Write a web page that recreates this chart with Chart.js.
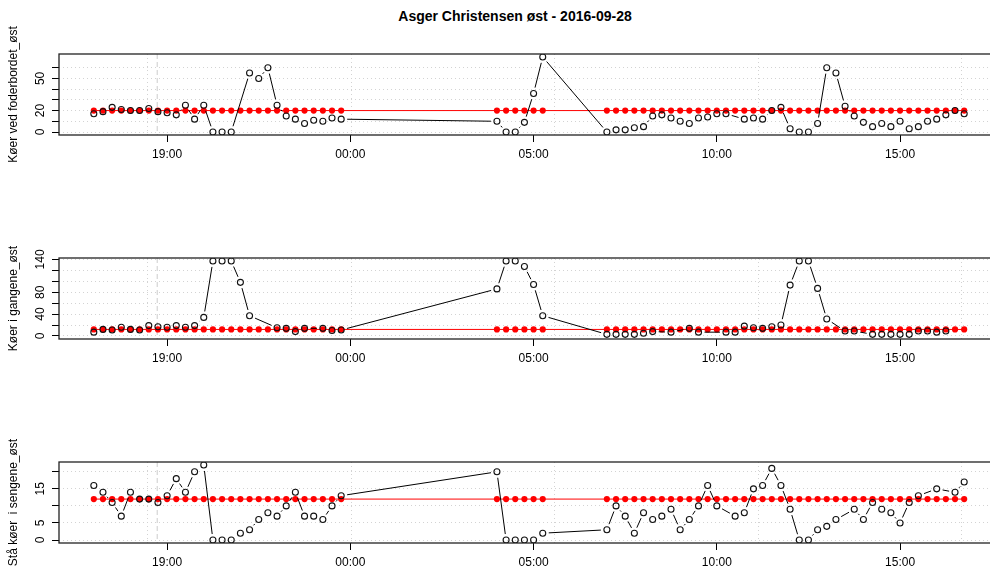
<!DOCTYPE html>
<html>
<head>
<meta charset="utf-8">
<script src="https://cdn.jsdelivr.net/npm/chart.js@4.4.0/dist/chart.umd.min.js"></script>
<style>
  html, body { margin: 0; padding: 0; background: #fff; overflow: hidden; width: 990px; height: 572px; }
  #title { position: absolute; left: 0; top: 8px; width: 1030px; text-align: center;
           font: bold 14px "Liberation Sans", Arial, sans-serif; color: #000; }
  canvas { position: absolute; left: 0; }
</style>
</head>
<body>
<div id="title">Asger Christensen øst - 2016-09-28</div>
<canvas id="foder" width="1010" height="226" style="top:4px"></canvas>
<canvas id="gangene" width="1010" height="226" style="top:208px"></canvas>
<canvas id="sengene" width="1010" height="226" style="top:412px"></canvas>
<script>
// tidspunkter (15 min), dag 1 kl. 17:00 til dag 2 kl. 16:45
const times = [
  '17:00','17:15','17:30','17:45','18:00','18:15','18:30','18:45','19:00','19:15','19:30','19:45',
  '20:00','20:15','20:30','20:45','21:00','21:15','21:30','21:45','22:00','22:15','22:30','22:45',
  '23:00','23:15','23:30','23:45',
  '04:00','04:15','04:30','04:45','05:00','05:15',
  '07:00','07:15','07:30','07:45','08:00','08:15','08:30','08:45','09:00','09:15','09:30','09:45',
  '10:00','10:15','10:30','10:45','11:00','11:15','11:30','11:45','12:00','12:15','12:30','12:45',
  '13:00','13:15','13:30','13:45','14:00','14:15','14:30','14:45','15:00','15:15','15:30','15:45',
  '16:00','16:15','16:30','16:45'
];

// observerede antal køer
const foderObs = [
  17, 19, 23, 21, 20, 20, 22, 19, 18, 16, 25, 12, 25, 0, 0, 0, null, 55, 50, 60, 25, 15, 12, 8, 11, 10, 13, 12,
  10, 0, 0, 9, 36, 70,
  0, 2, 2, 4, 5, 15, 16, 13, 10, 8, 13, 14, 17, 17, null, 12, 13, 12, 20, 23,
  3, 0, 0, 8, 60, 55, 24, 15, 9, 5, 8, 5, 10, 3, 5, 10, 12, 16, 20, 17
];
const gangeneObs = [
  7, 12, 11, 16, 12, 11, 19, 17, 16, 19, 16, 19, 34, 137, 137, 137, 98, 37, null, null, 15, 14, 8, 14, null, 14, 10, 11,
  86, 137, 137, 127, 94, 37,
  3, 3, 3, 3, 5, 8, null, 7, null, 14, 7, null, null, 7, 7, 18, 15, 14, 17, 20,
  93, 137, 137, 87, 31, null, 9, 9, null, 3, 3, 3, 3, 3, 9, 9, 7, 9, null, null
];
const sengeneObs = [
  16, 14, 11, 7, 14, 12, 12, 11, 13, 18, 14, 20, 22, 0, 0, 0, 2, 3, 6, 8, 7, 10, 14, 7, 7, 6, 10, 13,
  20, 0, 0, 0, 0, 2,
  3, 10, 7, 2, 8, 6, 7, 9, 3, 6, 10, 16, 10, null, 7, 8, 15, 16, 21, 16,
  9, 0, 0, 3, 4, 6, null, 9, 6, 11, 9, 8, 5, 11, 13, null, 15, null, 14, 17
];

// referenceniveau (rød)
const foderRef = [
  20, 20, 20, 20, 20, 20, 20, 20, 20, 20, 20, 20, 20, 20, 20, 20, 20, 20, 20, 20, 20, 20, 20, 20, 20, 20, 20, 20,
  20, 20, 20, 20, 20, 20,
  20, 20, 20, 20, 20, 20, 20, 20, 20, 20, 20, 20, 20, 20, 20, 20, 20, 20, 20, 20,
  20, 20, 20, 20, 20, 20, 20, 20, 20, 20, 20, 20, 20, 20, 20, 20, 20, 20, 20, 20
];
const gangeneRef = [
  12, 12, 12, 12, 12, 12, 12, 12, 12, 12, 12, 12, 12, 12, 12, 12, 12, 12, 12, 12, 12, 12, 12, 12, 12, 12, 12, 12,
  12, 12, 12, 12, 12, 12,
  12, 12, 12, 12, 12, 12, 12, 12, 12, 12, 12, 12, 12, 12, 12, 12, 12, 12, 12, 12,
  12, 12, 12, 12, 12, 12, 12, 12, 12, 12, 12, 12, 12, 12, 12, 12, 12, 12, 12, 12
];
const sengeneRef = [
  12, 12, 12, 12, 12, 12, 12, 12, 12, 12, 12, 12, 12, 12, 12, 12, 12, 12, 12, 12, 12, 12, 12, 12, 12, 12, 12, 12,
  12, 12, 12, 12, 12, 12,
  12, 12, 12, 12, 12, 12, 12, 12, 12, 12, 12, 12, 12, 12, 12, 12, 12, 12, 12, 12,
  12, 12, 12, 12, 12, 12, 12, 12, 12, 12, 12, 12, 12, 12, 12, 12, 12, 12, 12, 12
];

// akser (timer fra dag 1 kl. 00:00)
const xTicks = [19, 24, 29, 34, 39];
const xGrid = [18.46, 24.02, 29.57, 35.13, 40.68];
const xMark = 18.73;
const X_MIN = 16.05, X_MAX = 41.7;

const FONT = '"Liberation Sans", Arial, sans-serif';
Chart.defaults.font.family = FONT;
Chart.defaults.color = '#000';

// dagskift: når klokken går baglæns er vi på dag 2
const xs = [];
let dayOffset = 0;
times.forEach((t, i) => {
    const [h, m] = t.split(':').map(Number);
    const v = h + m / 60;
    if (i > 0 && v + dayOffset < xs[i - 1]) dayOffset += 24;
    xs.push(v + dayOffset);
});

function fmtHour(v) {
    return String(v % 24).padStart(2, '0') + ':00';
}

// tegner ramme, lodret markering, roterede y-labels og linjer med huller (type = "b")
const panelDecor = {
    id: 'panelDecor',
    beforeDatasetsDraw(chart) {
        const { ctx, chartArea: a } = chart;
        const px = chart.scales.x.getPixelForValue(xMark);
        ctx.save();
        ctx.strokeStyle = '#cccccc';
        ctx.lineWidth = 1;
        ctx.setLineDash([5, 3]);
        ctx.beginPath();
        ctx.moveTo(px, a.top);
        ctx.lineTo(px, a.bottom);
        ctx.stroke();
        ctx.restore();
    },
    beforeDatasetDraw(chart, args) {
        const ds = chart.data.datasets[args.index];
        if (!ds.gapLine) return;
        const ctx = chart.ctx;
        const gap = 6;
        const pts = args.meta.data.filter(p => !p.skip);
        ctx.save();
        ctx.strokeStyle = '#000';
        ctx.lineWidth = 1;
        ctx.beginPath();
        for (let i = 1; i < pts.length; i++) {
            const p0 = pts[i - 1], p1 = pts[i];
            const dx = p1.x - p0.x, dy = p1.y - p0.y;
            const d = Math.hypot(dx, dy);
            if (d <= 2 * gap) continue;
            const ux = dx / d, uy = dy / d;
            ctx.moveTo(p0.x + ux * gap, p0.y + uy * gap);
            ctx.lineTo(p1.x - ux * gap, p1.y - uy * gap);
        }
        ctx.stroke();
        ctx.restore();
    },
    afterDraw(chart, args, opts) {
        const { ctx, chartArea: a } = chart;
        ctx.save();
        ctx.strokeStyle = '#222';
        ctx.lineWidth = 1.3;
        ctx.strokeRect(a.left, a.top, a.right - a.left, a.bottom - a.top);
        const y = chart.scales.y;
        ctx.fillStyle = '#000';
        ctx.font = '12px ' + FONT;
        ctx.textAlign = 'center';
        ctx.textBaseline = 'middle';
        opts.labels.forEach(v => {
            ctx.save();
            ctx.translate(a.left - 18, y.getPixelForValue(v));
            ctx.rotate(-Math.PI / 2);
            ctx.fillText(String(v), 0, 0);
            ctx.restore();
        });
        ctx.restore();
    }
};

function makePanel(id, obs, ref, yMin, yMax, yTicks, yLabels, yTitle) {
    return new Chart(document.getElementById(id), {
        type: 'scatter',
        data: {
            datasets: [{
                data: xs.map((x, i) => ({ x: x, y: obs[i] })),
                gapLine: true,
                showLine: false,
                pointRadius: 3,
                pointBorderWidth: 1.1,
                pointBorderColor: '#111',
                pointBackgroundColor: 'rgba(0,0,0,0)',
                xAxisID: 'x',
                yAxisID: 'y'
            }, {
                data: xs.map((x, i) => ({ x: x, y: ref[i] })),
                showLine: true,
                borderColor: '#ff0000',
                borderWidth: 1,
                pointRadius: 3.1,
                pointBorderWidth: 0,
                pointBackgroundColor: '#ff0000',
                xAxisID: 'x',
                yAxisID: 'y'
            }]
        },
        options: {
            responsive: false,
            devicePixelRatio: 1,
            animation: false,
            events: [],
            layout: { padding: { top: 50, right: 11, left: 0, bottom: 0 } },
            scales: {
                x: {
                    type: 'linear',
                    position: 'bottom',
                    min: X_MIN,
                    max: X_MAX,
                    afterBuildTicks: s => { s.ticks = xTicks.map(v => ({ value: v })); },
                    afterFit: s => { s.height = 95; },
                    ticks: {
                        callback: v => fmtHour(v),
                        font: { size: 12 },
                        color: '#000',
                        padding: 5,
                        maxRotation: 0,
                        autoSkip: false
                    },
                    grid: { drawOnChartArea: false, drawTicks: true, tickLength: 7, tickColor: '#000', color: '#000' },
                    border: { display: false }
                },
                xg: {
                    type: 'linear',
                    position: 'top',
                    min: X_MIN,
                    max: X_MAX,
                    afterBuildTicks: s => { s.ticks = xGrid.map(v => ({ value: v })); },
                    afterFit: s => { s.height = 0; },
                    ticks: { display: false },
                    grid: { drawTicks: false, color: '#d3d3d3', lineWidth: 1 },
                    border: { display: false, dash: [1, 3] }
                },
                y: {
                    min: yMin,
                    max: yMax,
                    afterBuildTicks: s => { s.ticks = yTicks.map(v => ({ value: v })); },
                    afterFit: s => { s.width = 59; },
                    ticks: { display: false },
                    grid: { color: '#d3d3d3', lineWidth: 1, drawTicks: true, tickLength: 7, tickColor: '#000', tickBorderDash: [] },
                    border: { display: false, dash: [1, 3] },
                    title: {
                        display: true,
                        text: yTitle,
                        color: '#000',
                        font: { size: 12 },
                        padding: { top: 6, bottom: 0 }
                    }
                }
            },
            plugins: {
                legend: { display: false },
                tooltip: { enabled: false },
                panelDecor: { labels: yLabels }
            }
        },
        plugins: [panelDecor]
    });
}

makePanel('foder', foderObs, foderRef, -2.8, 72.8, [0, 10, 20, 30, 40, 50, 60], [0, 20, 50], 'Køer ved foderbordet_øst');
makePanel('gangene', gangeneObs, gangeneRef, -5.5, 142.5, [0, 20, 40, 60, 80, 100, 120, 140], [0, 40, 80, 140], 'Køer i gangene_øst');
makePanel('sengene', sengeneObs, sengeneRef, -0.88, 22.88, [0, 5, 10, 15, 20], [0, 5, 15], 'Stå køer  i sengene_øst');
</script>
</body>
</html>
